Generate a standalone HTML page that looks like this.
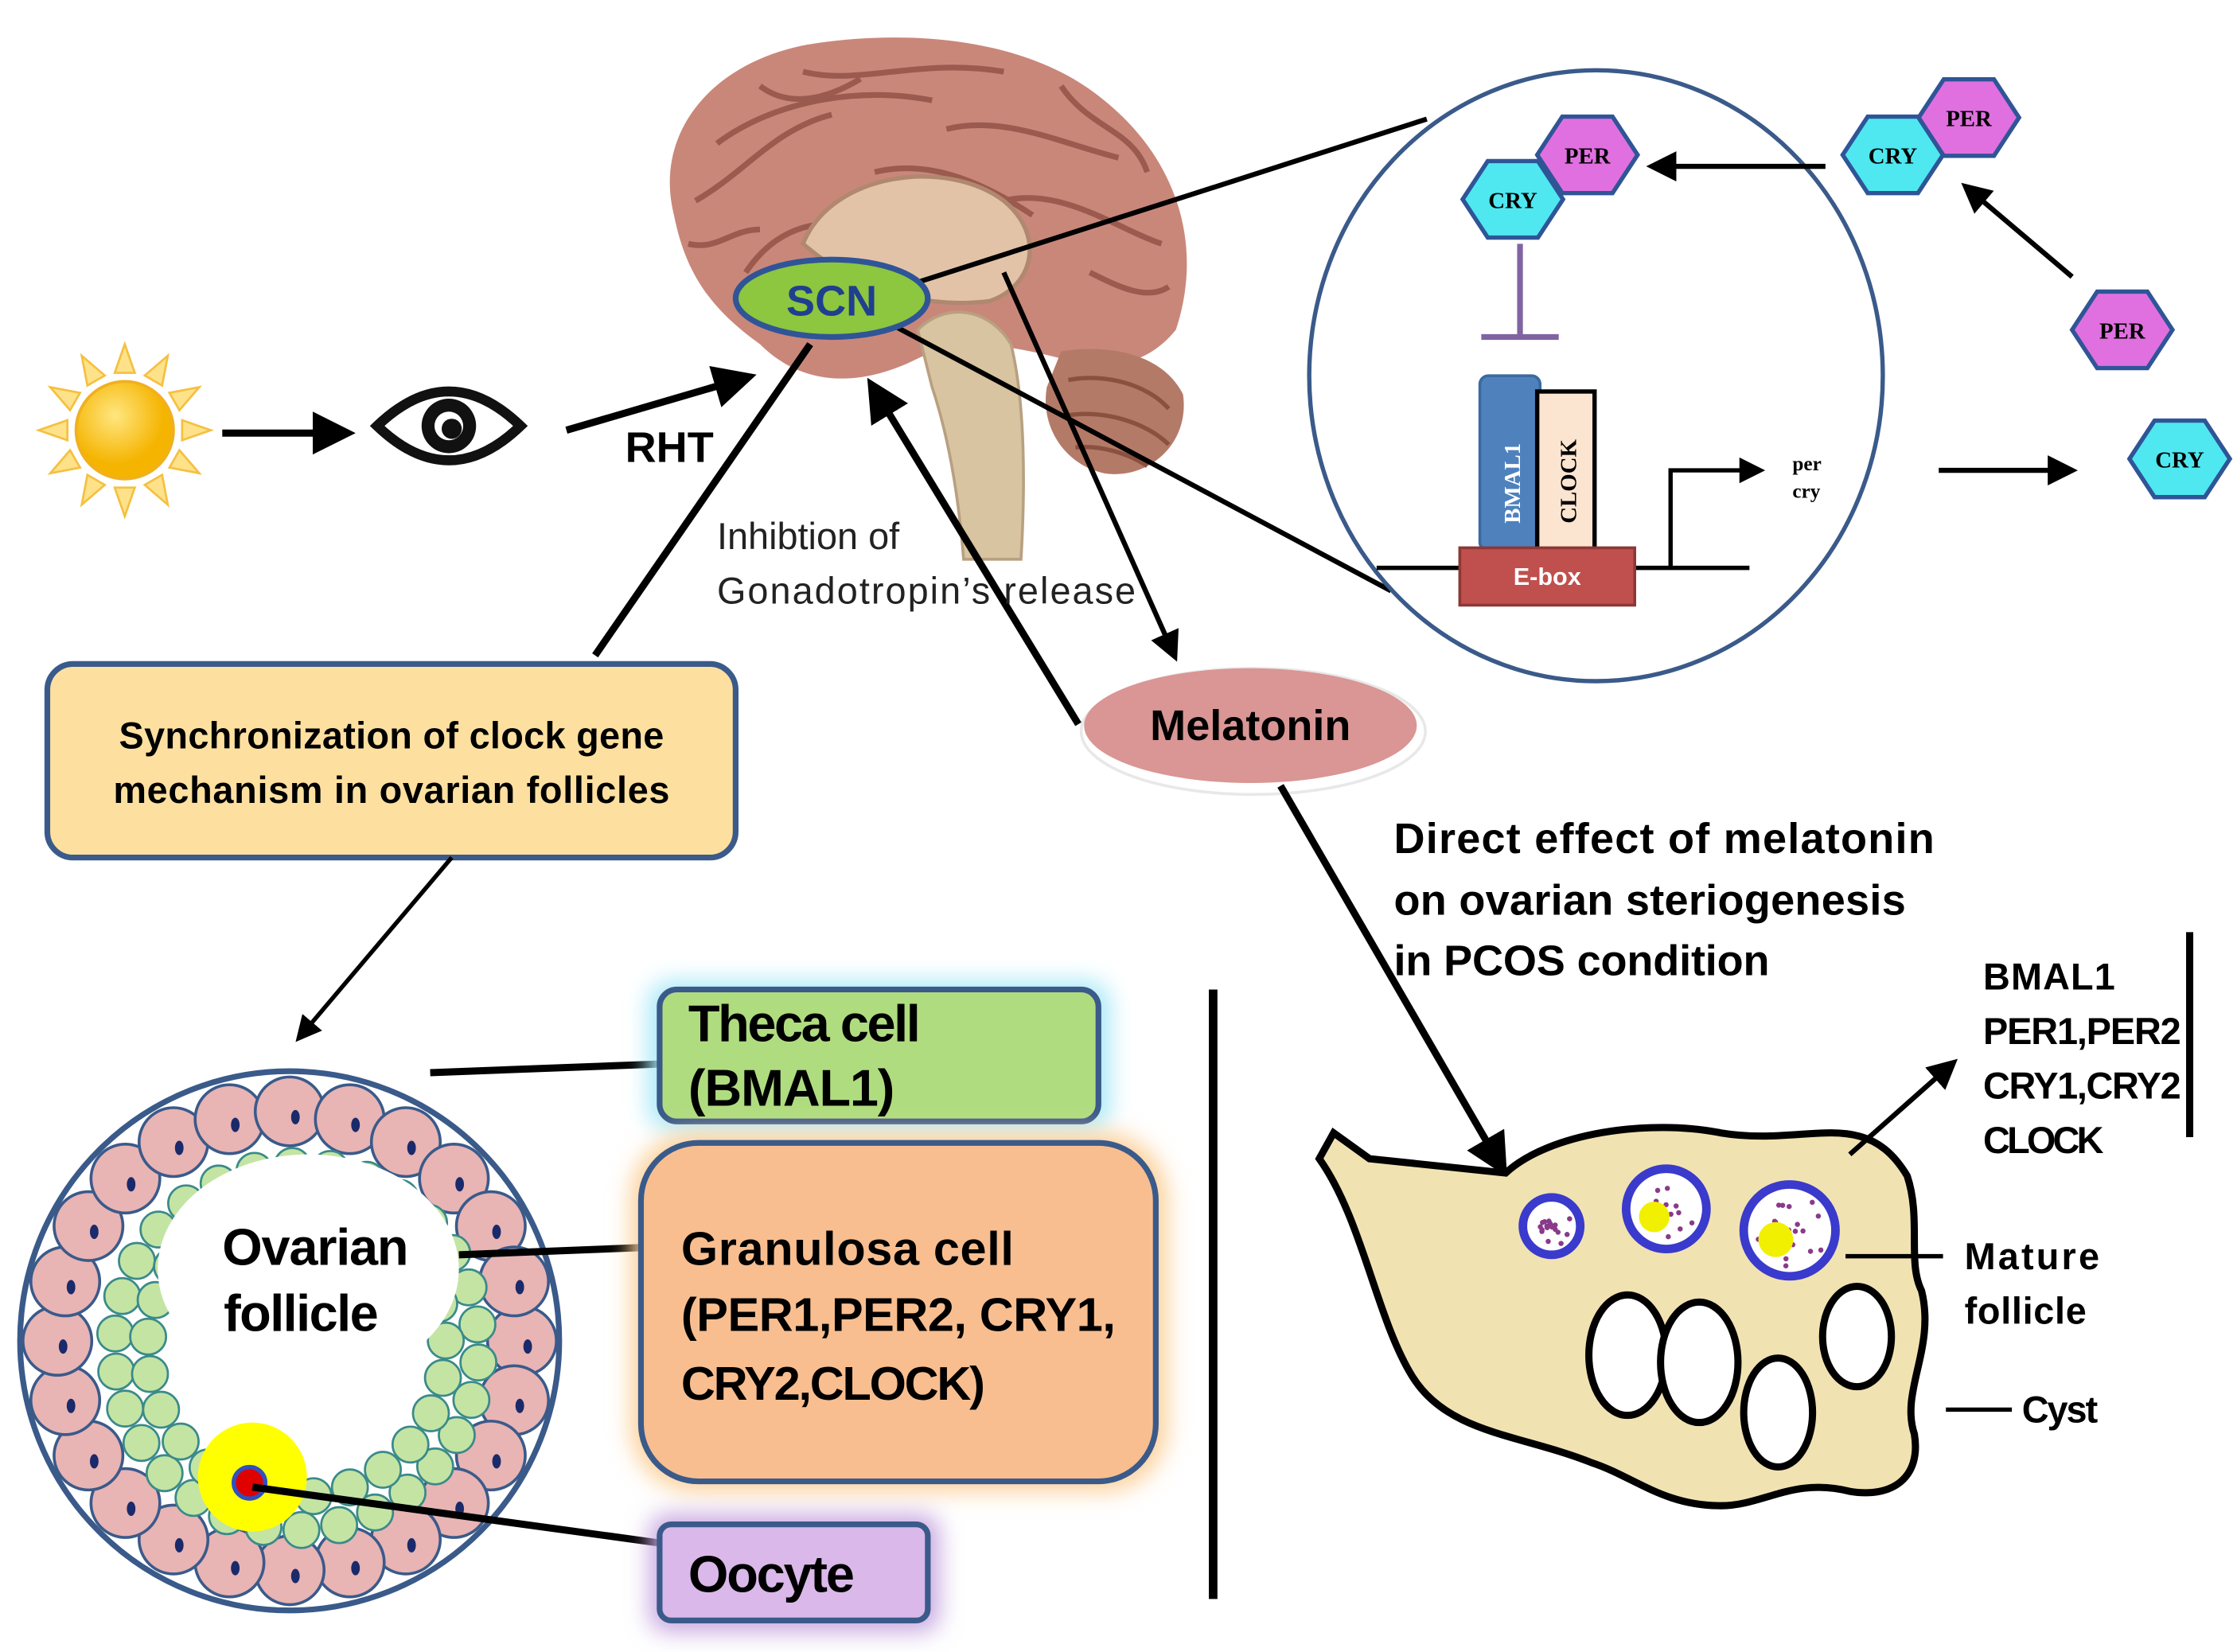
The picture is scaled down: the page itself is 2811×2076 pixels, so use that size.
<!DOCTYPE html>
<html><head><meta charset="utf-8">
<style>
html,body{margin:0;padding:0;background:#fff;}
svg{display:block;}
text{font-family:"Liberation Sans",sans-serif;}
.b{font-weight:bold;}
</style></head>
<body>
<svg id="s" width="2811" height="2076" viewBox="0 0 1560 1152" preserveAspectRatio="none" xmlns="http://www.w3.org/2000/svg">
<defs>
<marker id="ah" markerWidth="6" markerHeight="6" refX="4" refY="3" orient="auto" markerUnits="strokeWidth">
<path d="M0,0 L6,3 L0,6 Z" fill="#000"/></marker>
<filter id="gc" x="-20%" y="-30%" width="140%" height="160%"><feGaussianBlur stdDeviation="8"/></filter>
<radialGradient id="sun" cx="40%" cy="35%"><stop offset="0" stop-color="#ffe680"/><stop offset="1" stop-color="#f5b400"/></radialGradient>
</defs>

<g transform="translate(87,300)">
<g id="rays" fill="#fde28a" stroke="#f5c040" stroke-width="1.5"></g>
<circle r="34" fill="url(#sun)" stroke="#f0b020" stroke-width="2"/>
</g>
<line x1="155" y1="302" x2="238" y2="302" stroke="#000" stroke-width="5" marker-end="url(#ah)"/>
<g transform="translate(313,297)">
<path d="M-50,0 Q0,-48 50,0 Q0,48 -50,0 Z" fill="#fff" stroke="#111" stroke-width="7"/>
<circle r="19" fill="#111"/><circle r="10" fill="#fff"/><circle cx="2" cy="2" r="7" fill="#111"/>
</g>
<line x1="395" y1="300" x2="518" y2="264" stroke="#000" stroke-width="5" marker-end="url(#ah)"/>
<text x="436" y="322" class="b" font-size="30">RHT</text>

<g>
<path d="M470,150 C455,90 500,40 570,30 C640,20 720,28 770,70 C820,110 840,170 820,230 C800,255 770,260 740,250 C700,240 670,235 640,250 C600,270 560,270 530,240 C495,215 478,190 470,150 Z" fill="#c9877a"/>
<path d="M485,140 C520,120 540,90 580,80 M500,100 C540,70 600,60 650,70 M560,50 C600,60 640,40 700,50 M660,90 C700,80 740,100 780,110 M700,140 C740,130 780,160 810,170 M520,190 C540,160 570,150 600,160 M610,120 C650,110 690,130 720,150 M740,60 C760,90 790,90 800,120 M480,170 C500,175 510,160 530,160 M760,190 C780,200 800,210 815,200 M530,60 C550,75 575,70 600,55" stroke="#9a5a4e" stroke-width="4" fill="none"/>
<path d="M560,170 C580,120 660,110 700,140 C730,165 720,200 690,210 C650,215 600,205 560,170 Z" fill="#e3c3a8" stroke="#b08870" stroke-width="3"/>
<path d="M740,245 C770,240 810,245 825,275 C830,310 800,335 770,330 C745,325 725,300 730,270 Z" fill="#b47a68"/>
<path d="M745,265 C770,260 800,268 815,285 M742,290 C770,285 800,295 815,310 M750,312 C770,310 790,318 800,325" stroke="#8a5040" stroke-width="3" fill="none"/>
<path d="M640,230 C660,210 690,215 705,240 C715,280 715,340 712,390 L672,390 C668,340 660,300 650,270 Z" fill="#d8c4a0" stroke="#b8a080" stroke-width="2"/>
</g>

<line x1="630" y1="200" x2="995" y2="83" stroke="#000" stroke-width="3.5"/>
<line x1="625" y1="228" x2="970" y2="412" stroke="#000" stroke-width="3.5"/>
<line x1="415" y1="457" x2="565" y2="240" stroke="#000" stroke-width="5"/>
<line x1="700" y1="190" x2="818" y2="455" stroke="#000" stroke-width="3.5" marker-end="url(#ah)"/>
<line x1="752" y1="505" x2="610" y2="272" stroke="#000" stroke-width="5" marker-end="url(#ah)"/>

<ellipse cx="580" cy="208" rx="67" ry="27" fill="#8dc63f" stroke="#2f5597" stroke-width="4"/>
<text x="580" y="220" text-anchor="middle" class="b" font-size="30" fill="#1f3f8f">SCN</text>

<text x="500" y="383" font-size="26" fill="#222">Inhibtion of</text>
<text x="500" y="421" font-size="26" fill="#222" textLength="292">Gonadotropin’s release</text>

<ellipse cx="1113" cy="262" rx="200" ry="213" fill="#fff" stroke="#3a5a8a" stroke-width="3"/>
<g id="hex"></g>
<line x1="1273" y1="116" x2="1155" y2="116" stroke="#000" stroke-width="3.5" marker-end="url(#ah)"/>
<line x1="1445" y1="193" x2="1373" y2="132" stroke="#000" stroke-width="3.5" marker-end="url(#ah)"/>
<line x1="1352" y1="328" x2="1442" y2="328" stroke="#000" stroke-width="3.5" marker-end="url(#ah)"/>
<line x1="1060" y1="170" x2="1060" y2="235" stroke="#8064a2" stroke-width="4"/>
<line x1="1033" y1="235" x2="1087" y2="235" stroke="#8064a2" stroke-width="4"/>
<line x1="960" y1="396" x2="1220" y2="396" stroke="#000" stroke-width="3"/>
<path d="M1165,396 L1165,328 L1225,328" fill="none" stroke="#000" stroke-width="3" marker-end="url(#ah)"/>
<rect x="1032" y="262" width="42" height="122" rx="6" fill="#4f81bd" stroke="#3a6aa0" stroke-width="2"/>
<text transform="translate(1060,365) rotate(-90)" font-weight="bold" font-size="16" fill="#fff" style="font-family:'Liberation Serif',serif">BMAL1</text>
<rect x="1072" y="273" width="40" height="111" fill="#fbe5d0" stroke="#000" stroke-width="3"/>
<text transform="translate(1099,365) rotate(-90)" font-weight="bold" font-size="16" fill="#000" style="font-family:'Liberation Serif',serif">CLOCK</text>
<rect x="1018" y="382" width="122" height="40" fill="#c0504d" stroke="#8c3836" stroke-width="2"/>
<text x="1079" y="408" text-anchor="middle" class="b" font-size="17" fill="#fff">E-box</text>
<text x="1250" y="328" font-size="14" font-weight="bold" style="font-family:'Liberation Serif',serif">per</text>
<text x="1250" y="347" font-size="14" font-weight="bold" style="font-family:'Liberation Serif',serif">cry</text>

<ellipse cx="874" cy="510" rx="120" ry="44" fill="#fff" stroke="#e8e8e8" stroke-width="2"/>
<ellipse cx="872" cy="506" rx="116" ry="40" fill="#d99694"/>
<text x="872" y="516" text-anchor="middle" class="b" font-size="30">Melatonin</text>
<line x1="893" y1="548" x2="1046" y2="812" stroke="#000" stroke-width="5" marker-end="url(#ah)"/>

<rect x="33" y="463" width="480" height="135" rx="18" fill="#fde0a0" stroke="#3a5a8a" stroke-width="4"/>
<text x="273" y="522" text-anchor="middle" class="b" font-size="26" textLength="380">Synchronization of clock gene</text>
<text x="273" y="560" text-anchor="middle" class="b" font-size="26" textLength="388">mechanism in ovarian follicles</text>
<line x1="315" y1="598" x2="210" y2="722" stroke="#000" stroke-width="3" marker-end="url(#ah)"/>

<circle cx="202" cy="935" r="188" fill="#fff" stroke="#3a5a8a" stroke-width="4"/>
<g id="cells"></g>
<ellipse cx="215" cy="885" rx="105" ry="80" fill="#fff"/>
<text x="220" y="882" text-anchor="middle" class="b" font-size="36" textLength="130">Ovarian</text>
<text x="210" y="928" text-anchor="middle" class="b" font-size="36" textLength="108">follicle</text>
<circle cx="176" cy="1030" r="38" fill="#ffff00"/>
<circle cx="174" cy="1034" r="11" fill="#e00000" stroke="#3050c0" stroke-width="3"/>
<line x1="300" y1="748" x2="460" y2="742" stroke="#000" stroke-width="5"/>
<line x1="320" y1="875" x2="447" y2="870" stroke="#000" stroke-width="5"/>
<line x1="176" y1="1037" x2="460" y2="1076" stroke="#000" stroke-width="5"/>

<rect x="452" y="684" width="322" height="104" rx="16" fill="#a8e8f8" filter="url(#gc)"/>
<rect x="460" y="690" width="306" height="92" rx="12" fill="#b0dc80" stroke="#3a5a8a" stroke-width="4"/>
<text x="480" y="726" class="b" font-size="36" textLength="162">Theca cell</text>
<text x="480" y="771" class="b" font-size="36" textLength="144">(BMAL1)</text>
<rect x="440" y="790" width="374" height="250" rx="45" fill="#fcd09a" filter="url(#gc)"/>
<rect x="447" y="797" width="359" height="236" rx="40" fill="#f8be90" stroke="#3a5a8a" stroke-width="4"/>
<text x="475" y="882" class="b" font-size="33" textLength="232">Granulosa cell</text>
<text x="475" y="928" class="b" font-size="33" textLength="303">(PER1,PER2, CRY1,</text>
<text x="475" y="976" class="b" font-size="33" textLength="212">CRY2,CLOCK)</text>
<rect x="453" y="1056" width="202" height="82" rx="12" fill="#c8a8e0" filter="url(#gc)"/>
<rect x="460" y="1063" width="187" height="67" rx="8" fill="#dab8ea" stroke="#3a5a8a" stroke-width="4"/>
<text x="480" y="1110" class="b" font-size="36" textLength="116">Oocyte</text>

<line x1="846" y1="690" x2="846" y2="1115" stroke="#000" stroke-width="6"/>

<text x="972" y="595" class="b" font-size="30" textLength="377">Direct effect of melatonin</text>
<text x="972" y="638" class="b" font-size="30" textLength="357">on ovarian steriogenesis</text>
<text x="972" y="680" class="b" font-size="30" textLength="262">in PCOS condition</text>

<path d="M920,808 L930,790 L955,808 L1050,818 C1080,790 1150,780 1200,790 C1260,800 1300,770 1330,820 C1340,850 1330,880 1340,900 C1350,940 1325,970 1335,1000 C1340,1030 1320,1045 1290,1040 C1250,1030 1230,1050 1200,1050 C1160,1050 1140,1030 1110,1020 C1060,1000 1010,1000 985,960 C960,920 950,850 920,808 Z" fill="#f1e2b2" stroke="#000" stroke-width="5"/>
<g id="ovf"></g>
<line x1="1290" y1="805" x2="1360" y2="743" stroke="#000" stroke-width="3.5" marker-end="url(#ah)"/>
<text x="1383" y="690" class="b" font-size="26" textLength="92">BMAL1</text>
<text x="1383" y="728" class="b" font-size="26" textLength="138">PER1,PER2</text>
<text x="1383" y="766" class="b" font-size="26" textLength="138">CRY1,CRY2</text>
<text x="1383" y="804" class="b" font-size="26" textLength="84">CLOCK</text>
<line x1="1527" y1="650" x2="1527" y2="793" stroke="#000" stroke-width="5"/>
<line x1="1287" y1="876" x2="1355" y2="876" stroke="#000" stroke-width="3"/>
<text x="1370" y="885" class="b" font-size="26" textLength="94">Mature</text>
<text x="1370" y="923" class="b" font-size="26" textLength="85">follicle</text>
<line x1="1357" y1="983" x2="1403" y2="983" stroke="#000" stroke-width="3"/>
<text x="1410" y="992" class="b" font-size="26" textLength="53">Cyst</text>
</svg>
<script>
var NS="http://www.w3.org/2000/svg";
function el(p,t,a){var e=document.createElementNS(NS,t);for(var k in a)e.setAttribute(k,a[k]);p.appendChild(e);return e;}
var r=document.getElementById('rays');
for(var i=0;i<12;i++){var a=i*Math.PI/6;
 var c=Math.cos(a),s=Math.sin(a),px=-s,py=c;
 var r1=40,r2=60,w=7;
 el(r,'polygon',{points:(c*r1+px*w)+','+(s*r1+py*w)+' '+(c*r2)+','+(s*r2)+' '+(c*r1-px*w)+','+(s*r1-py*w)});}
var h=document.getElementById('hex');
function hex(x,y,t,f){var R=35,pts=[];for(var i=0;i<6;i++){var a=i*Math.PI/3;pts.push((x+R*Math.cos(a))+','+(y+R*0.88*Math.sin(a)));}
 el(h,'polygon',{points:pts.join(' '),fill:f,stroke:'#2f5597','stroke-width':3});
 var tx=el(h,'text',{x:x,y:y+6,'text-anchor':'middle','font-size':16,'font-weight':'bold',style:"font-family:'Liberation Serif',serif"});tx.textContent=t;}
hex(1055,139,'CRY','#4fe8f0');hex(1107,108,'PER','#e070e0');
hex(1320,108,'CRY','#4fe8f0');hex(1373,82,'PER','#e070e0');
hex(1480,230,'PER','#e070e0');hex(1520,320,'CRY','#4fe8f0');
var g=document.getElementById('cells');
var cx=202,cy=935;
for(var i=0;i<24;i++){var a=i*2*Math.PI/24;var x=cx+162*Math.cos(a),y=cy+160*Math.sin(a);
 el(g,'circle',{cx:x,cy:y,r:24,fill:'#e8b4b4',stroke:'#3a5a8a','stroke-width':2});
 el(g,'ellipse',{cx:x+4,cy:y+4,rx:3,ry:5,fill:'#1a2a6a'});}
var rings=[[127,30],[104,25]];
rings.forEach(function(rr){for(var i=0;i<rr[1];i++){var a=i*2*Math.PI/rr[1]+rr[0];
 var x=cx+5+rr[0]*Math.cos(a),y=cy+5+rr[0]*Math.sin(a);
 el(g,'circle',{cx:x,cy:y,r:12.5,fill:'#c4e4a4',stroke:'#3a8a8a','stroke-width':1.5});}});
var o=document.getElementById('ovf');
var seed=7;function rnd(){seed=(seed*9301+49297)%233280;return seed/233280;}
[[1082,855,20],[1162,843,28],[1248,858,32]].forEach(function(f,k){
 el(o,'circle',{cx:f[0],cy:f[1],r:f[2],fill:'#fff',stroke:'#3a3acc','stroke-width':6});
 for(var i=0;i<18;i++){var a=rnd()*6.28,d=rnd()*(f[2]-6);
  el(o,'circle',{cx:f[0]+d*Math.cos(a),cy:f[1]+d*Math.sin(a),r:1.8,fill:'#8a3a8a'});}
 if(k>0)el(o,'circle',{cx:f[0]-f[2]*0.3,cy:f[1]+f[2]*0.2,r:f[2]*0.38,fill:'#f0f000'});});
[[1135,945,27,42],[1185,950,27,42],[1240,985,24,38],[1295,932,24,35]].forEach(function(c){
 el(o,'ellipse',{cx:c[0],cy:c[1],rx:c[2],ry:c[3],fill:'#fff',stroke:'#000','stroke-width':5});});
</script>
</body></html>
